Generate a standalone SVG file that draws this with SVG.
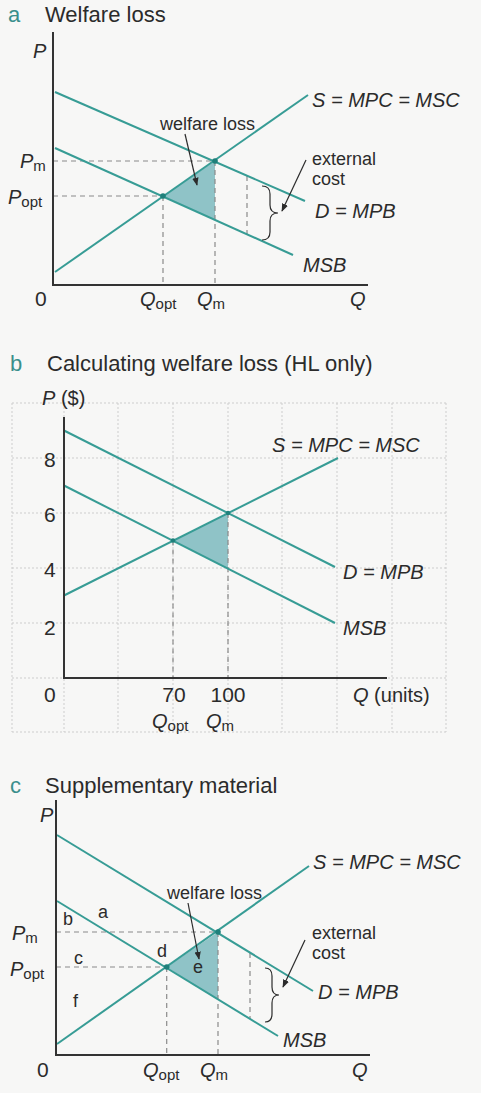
<svg xmlns="http://www.w3.org/2000/svg" width="481" height="1093" viewBox="0 0 481 1093">
<defs>
<marker id="ah" viewBox="0 0 10 10" refX="9" refY="5" markerWidth="8" markerHeight="8" markerUnits="userSpaceOnUse" orient="auto"><path d="M0,1 L10,5 L0,9 z" fill="#2b2b2b"/></marker>
</defs>
<style>
text{font-family:"Liberation Sans",Arial,sans-serif;fill:#2b2b2b}
.t{font-size:22px}
.tl{font-size:22px;fill:#3a8f8c}
.it{font-style:italic;font-size:20px}
.sub{font-size:15px;font-style:normal}
.lb{font-size:18px}
.num{font-size:21px}
.curve{stroke:#379c95;stroke-width:2;fill:none}
.axis{stroke:#333;stroke-width:2;fill:none}
.dash{stroke:#8a8a8a;stroke-width:1.2;stroke-dasharray:5 4;fill:none}
.shade{fill:#8fc3c7}
.dot{fill:#1f807b}
.ptr{stroke:#2b2b2b;stroke-width:1.2;fill:none;marker-end:url(#ah)}
.brace{stroke:#2b2b2b;stroke-width:1.2;fill:none}
.grid{stroke:#cdcdcd;stroke-width:1;stroke-dasharray:2 2;fill:none}
</style>
<rect width="481" height="1093" fill="#f7f7f6"/>

<g id="panel-a">
  <text x="8" y="22" class="tl">a</text><text x="45" y="22" class="t">Welfare loss</text>
  <polygon class="shade" points="163,196 215,161 215,220"/>
  <g id="a-dashes">
    <path class="dash" d="M53,161 H215 M53,196 H163 M163,196 V285 M215,161 V285 M247,176 V234"/>
  </g>
  <g id="a-curves">
    <path class="curve" d="M55,92 L305,201"/>
    <path class="curve" d="M55,148 L293,255"/>
    <path class="curve" d="M55,272 L308,95"/>
  </g>
  <path class="axis" d="M53,32 V285 H368"/>
  <circle class="dot" cx="163" cy="196" r="2.8"/>
  <circle class="dot" cx="215" cy="161" r="2.8"/>
  <path class="brace" d="M262,186 Q270,186 270,194 V205 Q270,213 278,213 Q270,213 270,221 V232 Q270,240 262,240"/>
  <g id="a-pointers">
    <path class="ptr" d="M306,160 L282,211"/>
    <path class="ptr" d="M185,134 L197,185"/>
  </g>
  <text x="33" y="58" class="it">P</text>
  <text x="20" y="168" class="it">P<tspan class="sub" dy="3">m</tspan></text>
  <text x="8" y="204" class="it">P<tspan class="sub" dy="3">opt</tspan></text>
  <text x="35" y="306" class="num">0</text>
  <text x="140" y="306" class="it">Q<tspan class="sub" dy="3">opt</tspan></text>
  <text x="197" y="306" class="it">Q<tspan class="sub" dy="3">m</tspan></text>
  <text x="350" y="306" class="it">Q</text>
  <text x="160" y="130" class="lb">welfare loss</text>
  <text x="312" y="165" class="lb">external</text>
  <text x="312" y="185" class="lb">cost</text>
  <text x="312" y="107" class="it">S = MPC = MSC</text>
  <text x="315" y="218" class="it">D = MPB</text>
  <text x="303" y="272" class="it">MSB</text>
</g>

<g id="panel-b">
  <text x="10" y="371" class="tl">b</text><text x="47" y="371" class="t">Calculating welfare loss (HL only)</text>
  <g id="b-grid">
    <path class="grid" d="M12,403 V732 M64,403 V732 M118,403 V732 M173,403 V732 M228,403 V732 M282,403 V732 M337,403 V732 M392,403 V732 M446,403 V732"/>
    <path class="grid" d="M12,403 H446 M12,458 H446 M12,513 H446 M12,568 H446 M12,623 H446 M12,678 H446 M12,732 H446"/>
  </g>
  <polygon class="shade" points="173,540.5 228,513 228,568.5"/>
  <path class="dash" d="M173,540.5 V678 M228,513 V678"/>
  <g id="b-curves">
    <path class="curve" d="M64,430.5 L335,567"/>
    <path class="curve" d="M64,485.5 L335,623"/>
    <path class="curve" d="M64,595.5 L338,458"/>
  </g>
  <path class="axis" d="M64,417 V678 H387"/>
  <circle class="dot" cx="173" cy="540.5" r="2.2"/>
  <circle class="dot" cx="228" cy="513" r="2.2"/>
  <text x="42" y="405" class="it">P<tspan font-style="normal"> ($)</tspan></text>
  <text x="44" y="467" class="num">8</text>
  <text x="44" y="522" class="num">6</text>
  <text x="44" y="577" class="num">4</text>
  <text x="44" y="635" class="num">2</text>
  <text x="44" y="702" class="num">0</text>
  <text x="174" y="702" class="num" text-anchor="middle">70</text>
  <text x="228" y="702" class="num" text-anchor="middle">100</text>
  <text x="353" y="702" class="it" font-size="22">Q<tspan font-style="normal"> (units)</tspan></text>
  <text x="152" y="728" class="it">Q<tspan class="sub" dy="3">opt</tspan></text>
  <text x="206" y="728" class="it">Q<tspan class="sub" dy="3">m</tspan></text>
  <text x="272" y="452" class="it">S = MPC = MSC</text>
  <text x="343" y="579" class="it">D = MPB</text>
  <text x="343" y="635" class="it">MSB</text>
</g>

<g id="panel-c">
  <text x="10" y="793" class="tl">c</text><text x="45" y="793" class="t">Supplementary material</text>
  <polygon class="shade" points="166.7,967 218,932 218,1000"/>
  <path class="dash" d="M56,932 H218 M56,967 H166.7 M166.7,967 V1055 M218,932 V1055 M250,953 V1019"/>
  <g id="c-curves">
    <path class="curve" d="M57,835 L313,991"/>
    <path class="curve" d="M57,901 L278,1036"/>
    <path class="curve" d="M57,1044 L309,866"/>
  </g>
  <path class="axis" d="M56,800 V1055 H370"/>
  <circle class="dot" cx="166.7" cy="967" r="2.8"/>
  <circle class="dot" cx="218" cy="932" r="2.8"/>
  <path class="brace" d="M265,968 Q272,968 272,976 V987 Q272,995 279,995 Q272,995 272,1003 V1014 Q272,1022 265,1022"/>
  <g id="c-pointers">
    <path class="ptr" d="M305,940 L283,987"/>
    <path class="ptr" d="M188,903 L199,959"/>
  </g>
  <text x="40" y="822" class="it">P</text>
  <text x="12" y="940" class="it">P<tspan class="sub" dy="3">m</tspan></text>
  <text x="10" y="976" class="it">P<tspan class="sub" dy="3">opt</tspan></text>
  <text x="37" y="1077" class="num">0</text>
  <text x="143" y="1077" class="it">Q<tspan class="sub" dy="3">opt</tspan></text>
  <text x="200" y="1077" class="it">Q<tspan class="sub" dy="3">m</tspan></text>
  <text x="352" y="1077" class="it">Q</text>
  <text x="98" y="918" class="lb">a</text>
  <text x="63" y="925" class="lb">b</text>
  <text x="74" y="964" class="lb">c</text>
  <text x="157" y="957" class="lb">d</text>
  <text x="193" y="973" class="lb">e</text>
  <text x="73" y="1007" class="lb">f</text>
  <text x="167" y="899" class="lb">welfare loss</text>
  <text x="312" y="939" class="lb">external</text>
  <text x="312" y="959" class="lb">cost</text>
  <text x="313" y="869" class="it">S = MPC = MSC</text>
  <text x="318" y="999" class="it">D = MPB</text>
  <text x="283" y="1047" class="it">MSB</text>
</g>
</svg>
